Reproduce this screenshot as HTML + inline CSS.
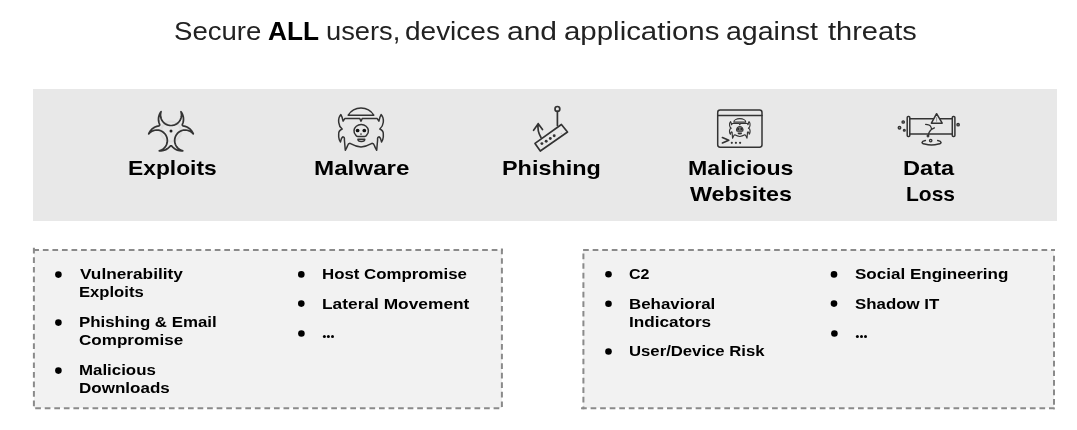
<!DOCTYPE html>
<html><head><meta charset="utf-8">
<style>
html,body{margin:0;padding:0;background:#fff;}
body{width:1077px;height:430px;position:relative;overflow:hidden;font-family:"Liberation Sans",sans-serif;color:#000;}
.bt,.rt{position:absolute;white-space:nowrap;line-height:1;transform-origin:0 0;will-change:transform;}
.bt{font-weight:bold;}
.rt{font-weight:normal;color:#222;}
#band{position:absolute;left:33px;top:89px;width:1024px;height:132px;background:#e8e8e8;}
.b{position:absolute;width:6px;height:6px;border-radius:50%;background:#111;}
svg{position:absolute;left:0;top:0;}
</style></head><body>
<div id="band"></div>
<svg width="1077" height="430" viewBox="0 0 1077 430">
<rect x="34" y="250" width="468" height="158" fill="#f2f2f2"/>
<rect x="583" y="250" width="471" height="158" fill="#f2f2f2"/>
<g fill="none" stroke="#8a8a8a" stroke-width="2" stroke-dasharray="5.7 3.85">
<path d="M33.3,250 L503,250" stroke-dashoffset="0.00"/>
<path d="M33.9,247.8 L33.9,409.3" stroke-dashoffset="0.00"/>
<path d="M501.9,248.6 L501.9,409.3" stroke-dashoffset="0.00"/>
<path d="M35.2,408.3 L503,408.3" stroke-dashoffset="0.00"/>
<path d="M583.1,250 L1055,250" stroke-dashoffset="0.00"/>
<path d="M583.4,253.6 L583.4,409.3" stroke-dashoffset="0.00"/>
<path d="M1054,255.8 L1054,409.3" stroke-dashoffset="0.00"/>
<path d="M581.05,408.2 L1055,408.2" stroke-dashoffset="0.00"/>
</g>
<g fill="#000">
<circle cx="58.4" cy="274.6" r="3.3"/><circle cx="58.4" cy="322.6" r="3.3"/><circle cx="58.4" cy="370.6" r="3.3"/>
<circle cx="301.3" cy="274.4" r="3.3"/><circle cx="301.3" cy="303.6" r="3.3"/><circle cx="301.4" cy="333.5" r="3.3"/>
<circle cx="608.5" cy="274.3" r="3.3"/><circle cx="608.5" cy="303.8" r="3.3"/><circle cx="608.5" cy="351.5" r="3.3"/>
<circle cx="834" cy="274.4" r="3.3"/><circle cx="834" cy="303.6" r="3.3"/><circle cx="834.4" cy="333.5" r="3.3"/>
<circle cx="324.4" cy="336.4" r="1.5"/><circle cx="328.4" cy="336.4" r="1.5"/><circle cx="332.5" cy="336.4" r="1.5"/>
<circle cx="857.4" cy="336.4" r="1.5"/><circle cx="861.5" cy="336.4" r="1.5"/><circle cx="865.5" cy="336.4" r="1.5"/>
</g>

<g id="exploits">
<circle cx="171" cy="131.5" r="10" fill="none" stroke="#dedede" stroke-width="2"/>
<path d="M148.72,133.89 L149.59,132.96 L150.39,132.26 L151.45,131.54 L152.57,130.96 L153.56,130.58 L154.80,130.25 L156.08,130.08 L157.34,130.06 L158.39,130.17 L159.62,130.43 L160.63,130.76 L161.80,131.30 L162.90,131.97 L163.88,132.76 L164.63,133.51 L165.43,134.52 L166.10,135.61 L166.63,136.76 L166.96,137.76 L167.22,138.99 L167.33,140.05 L167.31,141.31 L167.14,142.58 L166.88,143.61 L166.43,144.82 L165.72,146.15 L164.96,147.20 L164.07,148.16 L162.90,149.13 L161.80,149.80 L160.60,150.35 L159.24,150.77 L160.39,150.82 L161.63,150.76 L163.13,150.52 L164.33,150.19 L165.75,149.62 L167.08,148.89 L168.10,148.17 L169.23,147.17 L170.28,146.05 L170.64,145.86 L170.99,145.80 L171.40,145.87 L171.76,146.07 L172.99,147.38 L174.41,148.55 L175.45,149.20 L176.81,149.87 L178.26,150.37 L179.76,150.69 L181.29,150.82 L182.76,150.77 L181.61,150.43 L180.43,149.92 L179.34,149.29 L178.32,148.51 L177.39,147.61 L176.59,146.61 L176.02,145.71 L175.46,144.55 L175.04,143.34 L174.78,142.10 L174.67,140.82 L174.71,139.54 L174.87,138.49 L175.20,137.24 L175.66,136.07 L176.28,134.94 L177.04,133.90 L177.91,132.96 L178.71,132.26 L179.78,131.54 L180.92,130.94 L182.10,130.51 L183.35,130.21 L184.63,130.06 L185.92,130.08 L187.20,130.25 L188.44,130.58 L189.43,130.96 L190.55,131.54 L191.61,132.26 L192.58,133.11 L193.29,133.90 L192.62,132.43 L191.65,130.88 L190.65,129.70 L189.30,128.47 L188.03,127.61 L186.94,127.02 L185.22,126.36 L183.08,125.87 L182.73,125.66 L182.47,125.35 L182.33,124.90 L182.35,124.50 L183.05,122.54 L183.41,120.72 L183.50,119.19 L183.41,117.68 L183.12,116.16 L182.55,114.42 L181.87,113.03 L180.94,111.63 L181.25,112.71 L181.45,113.99 L181.50,115.27 L181.39,116.53 L181.12,117.79 L180.71,119.00 L180.25,119.96 L179.58,121.06 L178.77,122.06 L177.87,122.94 L176.85,123.72 L175.73,124.37 L174.77,124.80 L173.54,125.19 L172.27,125.42 L170.99,125.50 L169.70,125.42 L168.46,125.19 L167.45,124.88 L166.27,124.37 L165.15,123.72 L164.13,122.94 L163.23,122.06 L162.42,121.06 L161.75,119.96 L161.21,118.79 L160.82,117.57 L160.61,116.53 L160.50,115.27 L160.55,113.99 L160.75,112.71 L161.06,111.63 L160.13,113.03 L159.45,114.42 L158.88,116.16 L158.59,117.68 L158.50,119.19 L158.59,120.72 L158.95,122.54 L159.65,124.50 L159.67,124.90 L159.53,125.35 L159.27,125.66 L158.92,125.87 L156.78,126.36 L155.06,127.02 L153.97,127.61 L152.70,128.47 L151.35,129.70 L150.35,130.88 L149.38,132.43 L148.72,133.89Z" fill="none" stroke="#333333" stroke-width="1.75" stroke-linejoin="round"/>
<circle cx="171" cy="130.9" r="1.5" fill="#222"/>
</g>
<g id="malware" fill="none" stroke="#333333" stroke-width="1.5" stroke-linejoin="round" stroke-linecap="round">
<path d="M348.2,115.2 A15,15 0 0 1 373.8,115.2 Z"/>
<path d="M361.00,121.20 L359.80,118.60 L344.80,118.60 L343.10,121.20 Q342.20,116.50 340.90,114.60 Q338.20,117.50 338.70,122.30 Q339.10,126.40 342.20,129.00 Q338.60,130.60 338.70,133.60 L338.70,137.00 Q339.00,140.00 340.50,142.00 Q341.20,137.80 342.80,136.80 Q344.80,137.00 344.40,140.00 L345.30,150.30 Q346.80,148.00 347.40,146.00 Q348.30,143.40 350.00,143.30 Q356.00,146.60 361.00,146.90 Q366.00,146.60 372.00,143.30 Q373.70,143.40 374.60,146.00 Q375.20,148.00 376.70,150.30 L377.60,140.00 Q377.20,137.00 379.20,136.80 Q380.80,137.80 381.50,142.00 Q383.00,140.00 383.30,137.00 L383.30,133.60 Q383.40,130.60 379.80,129.00 Q382.90,126.40 383.30,122.30 Q383.80,117.50 381.10,114.60 Q379.80,116.50 378.90,121.20 L377.20,118.60 L362.20,118.60 L361.00,121.20 Z"/>
<path d="M355.55,134.8 A7.2,6.3 0 1 1 366.85,134.8 Q366,136.4 364.6,136.5 L357.8,136.5 Q356.4,136.4 355.55,134.8 Z"/>
<path d="M357.9,139.2 L364.8,139.2 A3.45,2.3 0 0 1 357.9,139.2 Z"/>
<circle cx="357.6" cy="130.5" r="1.85" fill="#111" stroke="none"/>
<circle cx="364.3" cy="130.5" r="1.85" fill="#111" stroke="none"/>
<circle cx="361" cy="134" r="0.85" fill="#333333" stroke="none"/>
</g>
<g id="phishing" fill="none" stroke="#333333" stroke-width="1.7" stroke-linejoin="round" stroke-linecap="round">
<circle cx="557.4" cy="108.9" r="2.4"/>
<path d="M557.4,111.3 L557.4,125.5"/>
<path d="M535,143.4 L561.4,124.5 L567.5,132 L540.3,151 Z"/>
<path d="M541,137.5 Q537,131 538.2,123.7 M533.6,130.3 L538.2,123.7 L542.5,129.6"/>
<g fill="#333333" stroke="none"><circle cx="541.9" cy="143.6" r="1.45"/><circle cx="546.2" cy="141.3" r="1.45"/><circle cx="550.3" cy="138.5" r="1.45"/><circle cx="554.2" cy="135.7" r="1.45"/><circle cx="561.3" cy="133.4" r="0.6" fill="#bbb"/></g>
</g>
<g id="websites" fill="none" stroke="#333333" stroke-width="1.5" stroke-linejoin="round" stroke-linecap="round">
<rect x="717.7" y="110.05" width="44.3" height="37.1" rx="2.4"/>
<path d="M717.7,115.6 L762,115.6"/>
<path d="M722.4,137.5 L728.8,140.2 L722.4,143" stroke-width="1.6"/>
<g fill="#333333" stroke="none"><circle cx="731.8" cy="142.8" r="1.1"/><circle cx="735.9" cy="142.8" r="1.1"/><circle cx="740.1" cy="142.8" r="1.1"/></g>
<g transform="translate(739.8,118.4) scale(0.46) translate(-361,-107.5)" stroke-width="2.5">
<path d="M348,115.6 A13,7.5 0 0 1 374,115.6 Z"/>
<path d="M361.00,121.20 L359.80,118.60 L344.80,118.60 L343.10,121.20 Q342.20,116.50 340.90,114.60 Q338.20,117.50 338.70,122.30 Q339.10,126.40 342.20,129.00 Q338.60,130.60 338.70,133.60 L338.70,137.00 Q339.00,140.00 340.50,142.00 Q341.20,137.80 342.80,136.80 Q344.80,137.00 344.40,140.00 L345.30,150.30 Q346.80,148.00 347.40,146.00 Q348.30,143.40 350.00,143.30 Q356.00,146.60 361.00,146.90 Q366.00,146.60 372.00,143.30 Q373.70,143.40 374.60,146.00 Q375.20,148.00 376.70,150.30 L377.60,140.00 Q377.20,137.00 379.20,136.80 Q380.80,137.80 381.50,142.00 Q383.00,140.00 383.30,137.00 L383.30,133.60 Q383.40,130.60 379.80,129.00 Q382.90,126.40 383.30,122.30 Q383.80,117.50 381.10,114.60 Q379.80,116.50 378.90,121.20 L377.20,118.60 L362.20,118.60 L361.00,121.20 Z"/>
<path d="M354.6,135 A7,7 0 1 1 367.4,135 L365.6,135.5 L356.4,135.5 Z" fill="#777"/>
<circle cx="357.6" cy="130.6" r="2.2" fill="#222" stroke="none"/>
<circle cx="364.4" cy="130.6" r="2.2" fill="#222" stroke="none"/>
<path d="M357.3,139.2 L364.7,139.2 A3.7,2.3 0 0 1 357.3,139.2 Z" fill="#777"/>
</g>
</g>
<g id="dataloss" fill="none" stroke="#333333" stroke-width="1.5" stroke-linejoin="round" stroke-linecap="round">
<rect x="907.2" y="116.4" width="2.6" height="20" rx="1"/>
<rect x="952.3" y="116.4" width="2.6" height="20" rx="1"/>
<path d="M909.8,118.7 L952.3,118.7 M909.8,133.9 L952.3,133.9"/>
<path d="M936.6,113.7 L942.2,123.2 L931.4,123.2 Z" fill="#e8e8e8"/>
<path d="M936.6,117.6 L936.6,121.3" stroke-width="0.7" stroke="#777"/>
<path d="M925.6,124.3 Q929.8,124.8 930.4,126 Q931.6,127.8 931.5,129.3 Q929.5,131.5 928.8,133.1 L928.3,135.5 M931.5,129.3 L934.4,127.9" stroke-width="1.3"/>
<path d="M925.4,140.6 A9.5,2.4 0 1 0 937.7,140.6" stroke-width="1.5"/>
<circle cx="930.7" cy="140.6" r="1.2" stroke-width="1.3"/>
<circle cx="928" cy="136" r="0.9" stroke-width="1.1"/>
<g stroke-width="1.3" fill="#999"><circle cx="903.2" cy="122" r="1.2"/><circle cx="899.5" cy="127.7" r="1.3"/><circle cx="904.3" cy="130.3" r="0.9"/><circle cx="958.1" cy="124.7" r="1.2"/></g>
</g>

</svg>
<div class="rt" style="left:174.30px;top:18.60px;font-size:25px;transform:scaleX(1.1026)">Secure</div>
<div class="bt" style="left:268.45px;top:18.60px;font-size:25px;transform:scaleX(1.0489)">ALL</div>
<div class="rt" style="left:326.32px;top:18.60px;font-size:25px;transform:scaleX(1.0922)">users,</div>
<div class="rt" style="left:405.38px;top:18.60px;font-size:25px;transform:scaleX(1.1193)">devices</div>
<div class="rt" style="left:507.10px;top:18.60px;font-size:25px;transform:scaleX(1.2000)">and</div>
<div class="rt" style="left:564.02px;top:18.60px;font-size:25px;transform:scaleX(1.1769)">applications</div>
<div class="rt" style="left:726.06px;top:18.60px;font-size:25px;transform:scaleX(1.1412)">against</div>
<div class="rt" style="left:828.20px;top:18.60px;font-size:25px;transform:scaleX(1.1605)">threats</div>
<div class="bt" style="left:128.01px;top:156.70px;font-size:21px;transform:scaleX(1.0863)">Exploits</div>
<div class="bt" style="left:313.55px;top:156.70px;font-size:21px;transform:scaleX(1.1519)">Malware</div>
<div class="bt" style="left:501.69px;top:156.70px;font-size:21px;transform:scaleX(1.1140)">Phishing</div>
<div class="bt" style="left:687.60px;top:156.80px;font-size:21px;transform:scaleX(1.1021)">Malicious</div>
<div class="bt" style="left:690.00px;top:183.00px;font-size:21px;transform:scaleX(1.1099)">Websites</div>
<div class="bt" style="left:902.88px;top:156.80px;font-size:21px;transform:scaleX(1.1244)">Data</div>
<div class="bt" style="left:905.51px;top:183.00px;font-size:21px;transform:scaleX(0.9936)">Loss</div>
<div class="bt" style="left:80.40px;top:266.00px;font-size:15px;transform:scaleX(1.1494)">Vulnerability</div>
<div class="bt" style="left:79.29px;top:284.00px;font-size:15px;transform:scaleX(1.1088)">Exploits</div>
<div class="bt" style="left:79.28px;top:314.00px;font-size:15px;transform:scaleX(1.1240)">Phishing &amp; Email</div>
<div class="bt" style="left:79.26px;top:332.00px;font-size:15px;transform:scaleX(1.1367)">Compromise</div>
<div class="bt" style="left:79.28px;top:362.00px;font-size:15px;transform:scaleX(1.1239)">Malicious</div>
<div class="bt" style="left:79.27px;top:380.00px;font-size:15px;transform:scaleX(1.1342)">Downloads</div>
<div class="bt" style="left:322.28px;top:266.00px;font-size:15px;transform:scaleX(1.1219)">Host Compromise</div>
<div class="bt" style="left:322.24px;top:295.50px;font-size:15px;transform:scaleX(1.1556)">Lateral Movement</div>
<div class="bt" style="left:629.23px;top:266.00px;font-size:15px;transform:scaleX(1.0667)">C2</div>
<div class="bt" style="left:629.17px;top:295.70px;font-size:15px;transform:scaleX(1.1253)">Behavioral</div>
<div class="bt" style="left:629.15px;top:313.80px;font-size:15px;transform:scaleX(1.1457)">Indicators</div>
<div class="bt" style="left:629.19px;top:343.00px;font-size:15px;transform:scaleX(1.1132)">User/Device Risk</div>
<div class="bt" style="left:854.56px;top:266.00px;font-size:15px;transform:scaleX(1.1361)">Social Engineering</div>
<div class="bt" style="left:854.58px;top:295.50px;font-size:15px;transform:scaleX(1.1230)">Shadow IT</div>
</body></html>
